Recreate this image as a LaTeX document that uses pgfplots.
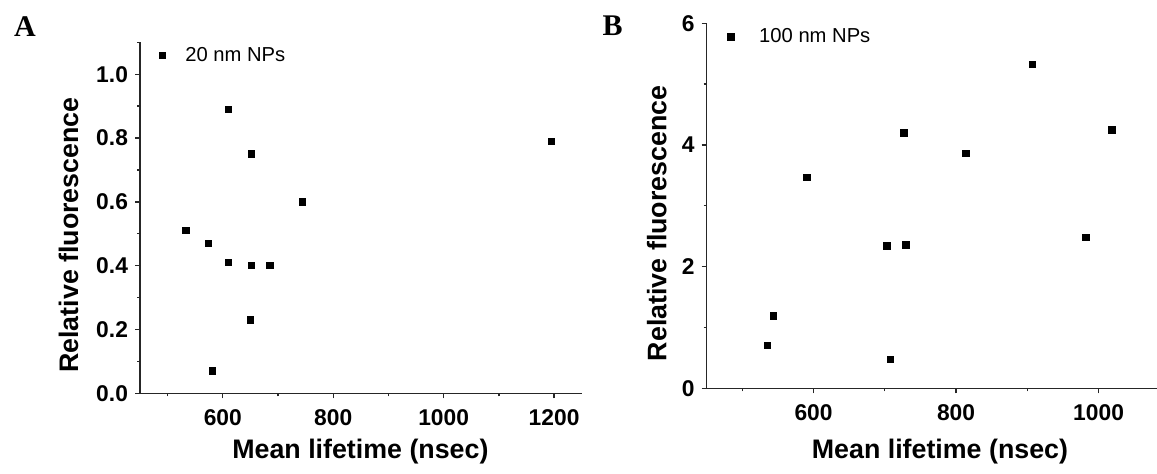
\documentclass[border=0pt]{standalone}
\usepackage{fontspec}
\setmainfont{Liberation Sans}
\newfontfamily\panelfont{Liberation Serif}
\usepackage{pgfplots}
\pgfplotsset{compat=1.18}
\begin{document}
\begin{tikzpicture}
\pgfplotsset{
  common/.style={
    scale only axis,
    axis lines=left,
    axis line style={-, line width=0.65pt, black!85},
    every tick/.style={black!85, line width=0.65pt},
    tick align=outside,
    major tick length=2.5pt,
    minor tick length=1.5pt,
    tick label style={font=\fontsize{11.4}{13}\selectfont\bfseries},
    xticklabel style={yshift=-2pt},
    /pgf/number format/assume math mode=true,
    /pgf/number format/1000 sep={},
    label style={font=\fontsize{13.4}{15}\selectfont\bfseries},
    legend style={draw=none, fill=none, font=\fontsize{10.1}{12}\selectfont, anchor=west, inner sep=0pt},
    legend image code/.code={\draw[mark=square*, mark size=1.6pt, only marks] plot coordinates {(0,0)};},
    clip=false,
  }
}
% Panel A
\begin{axis}[common,
  at={(70pt,39.85pt)}, anchor=south west,
  width=220.85pt, height=175.5pt,
  xmin=450, xmax=1250, ymin=0, ymax=1.1,
  xtick={600,800,1000,1200}, minor xtick={500,700,900,1100},
  ytick={0,0.2,0.4,0.6,0.8,1.0}, minor ytick={0.1,0.3,0.5,0.7,0.9,1.1},
  yticklabel style={/pgf/number format/.cd, fixed, fixed zerofill, precision=1},
  xlabel={Mean lifetime (nsec)},
  ylabel={Relative fluorescence},
  xlabel style={at={(axis description cs:0.499,-0.165)}, anchor=center},
  ylabel style={at={(axis description cs:-0.162,0.451)}, anchor=center},
  legend style={at={(axis description cs:0.042,0.962)}},
]
\addplot[only marks, mark=square*, mark size=1.6pt, black] coordinates {
  (533,0.51) (574,0.47) (610,0.89) (610,0.41) (651.5,0.75) (651.5,0.40)
  (685,0.40) (744,0.60) (650,0.23) (580.6,0.07) (1195,0.79)
};
\addlegendentry{\hspace*{8pt}20 nm NPs}
\end{axis}
% Panel B
\begin{axis}[common,
  at={(353.35pt,42.35pt)}, anchor=south west,
  width=225.15pt, height=182.5pt,
  xmin=450, xmax=1082, ymin=0, ymax=6,
  xtick={600,800,1000}, minor xtick={500,700,900},
  ytick={0,2,4,6}, minor ytick={1,3,5},
  xlabel={Mean lifetime (nsec)},
  ylabel={Relative fluorescence},
  xlabel style={at={(axis description cs:0.518,-0.172)}, anchor=center},
  ylabel style={at={(axis description cs:-0.111,0.452)}, anchor=center},
  legend style={at={(axis description cs:0.046,0.963)}},
]
\addplot[only marks, mark=square*, mark size=1.6pt, black] coordinates {
  (535,0.71) (544,1.19) (590.6,3.47) (702.8,2.34) (707.4,0.48) (726.7,4.20)
  (729.4,2.36) (813.5,3.86) (907,5.32) (982.3,2.48) (1018.7,4.25)
};
\addlegendentry{\hspace*{10.5pt}100 nm NPs}
\end{axis}
\node[font=\panelfont\fontsize{15}{17}\selectfont\bfseries] at (12.5pt,223pt) {A};
\node[font=\panelfont\fontsize{15}{17}\selectfont\bfseries] at (306.25pt,223.5pt) {B};
\pgfresetboundingbox
\useasboundingbox (0,0) rectangle (578.5pt,236.5pt);
\end{tikzpicture}
\end{document}
